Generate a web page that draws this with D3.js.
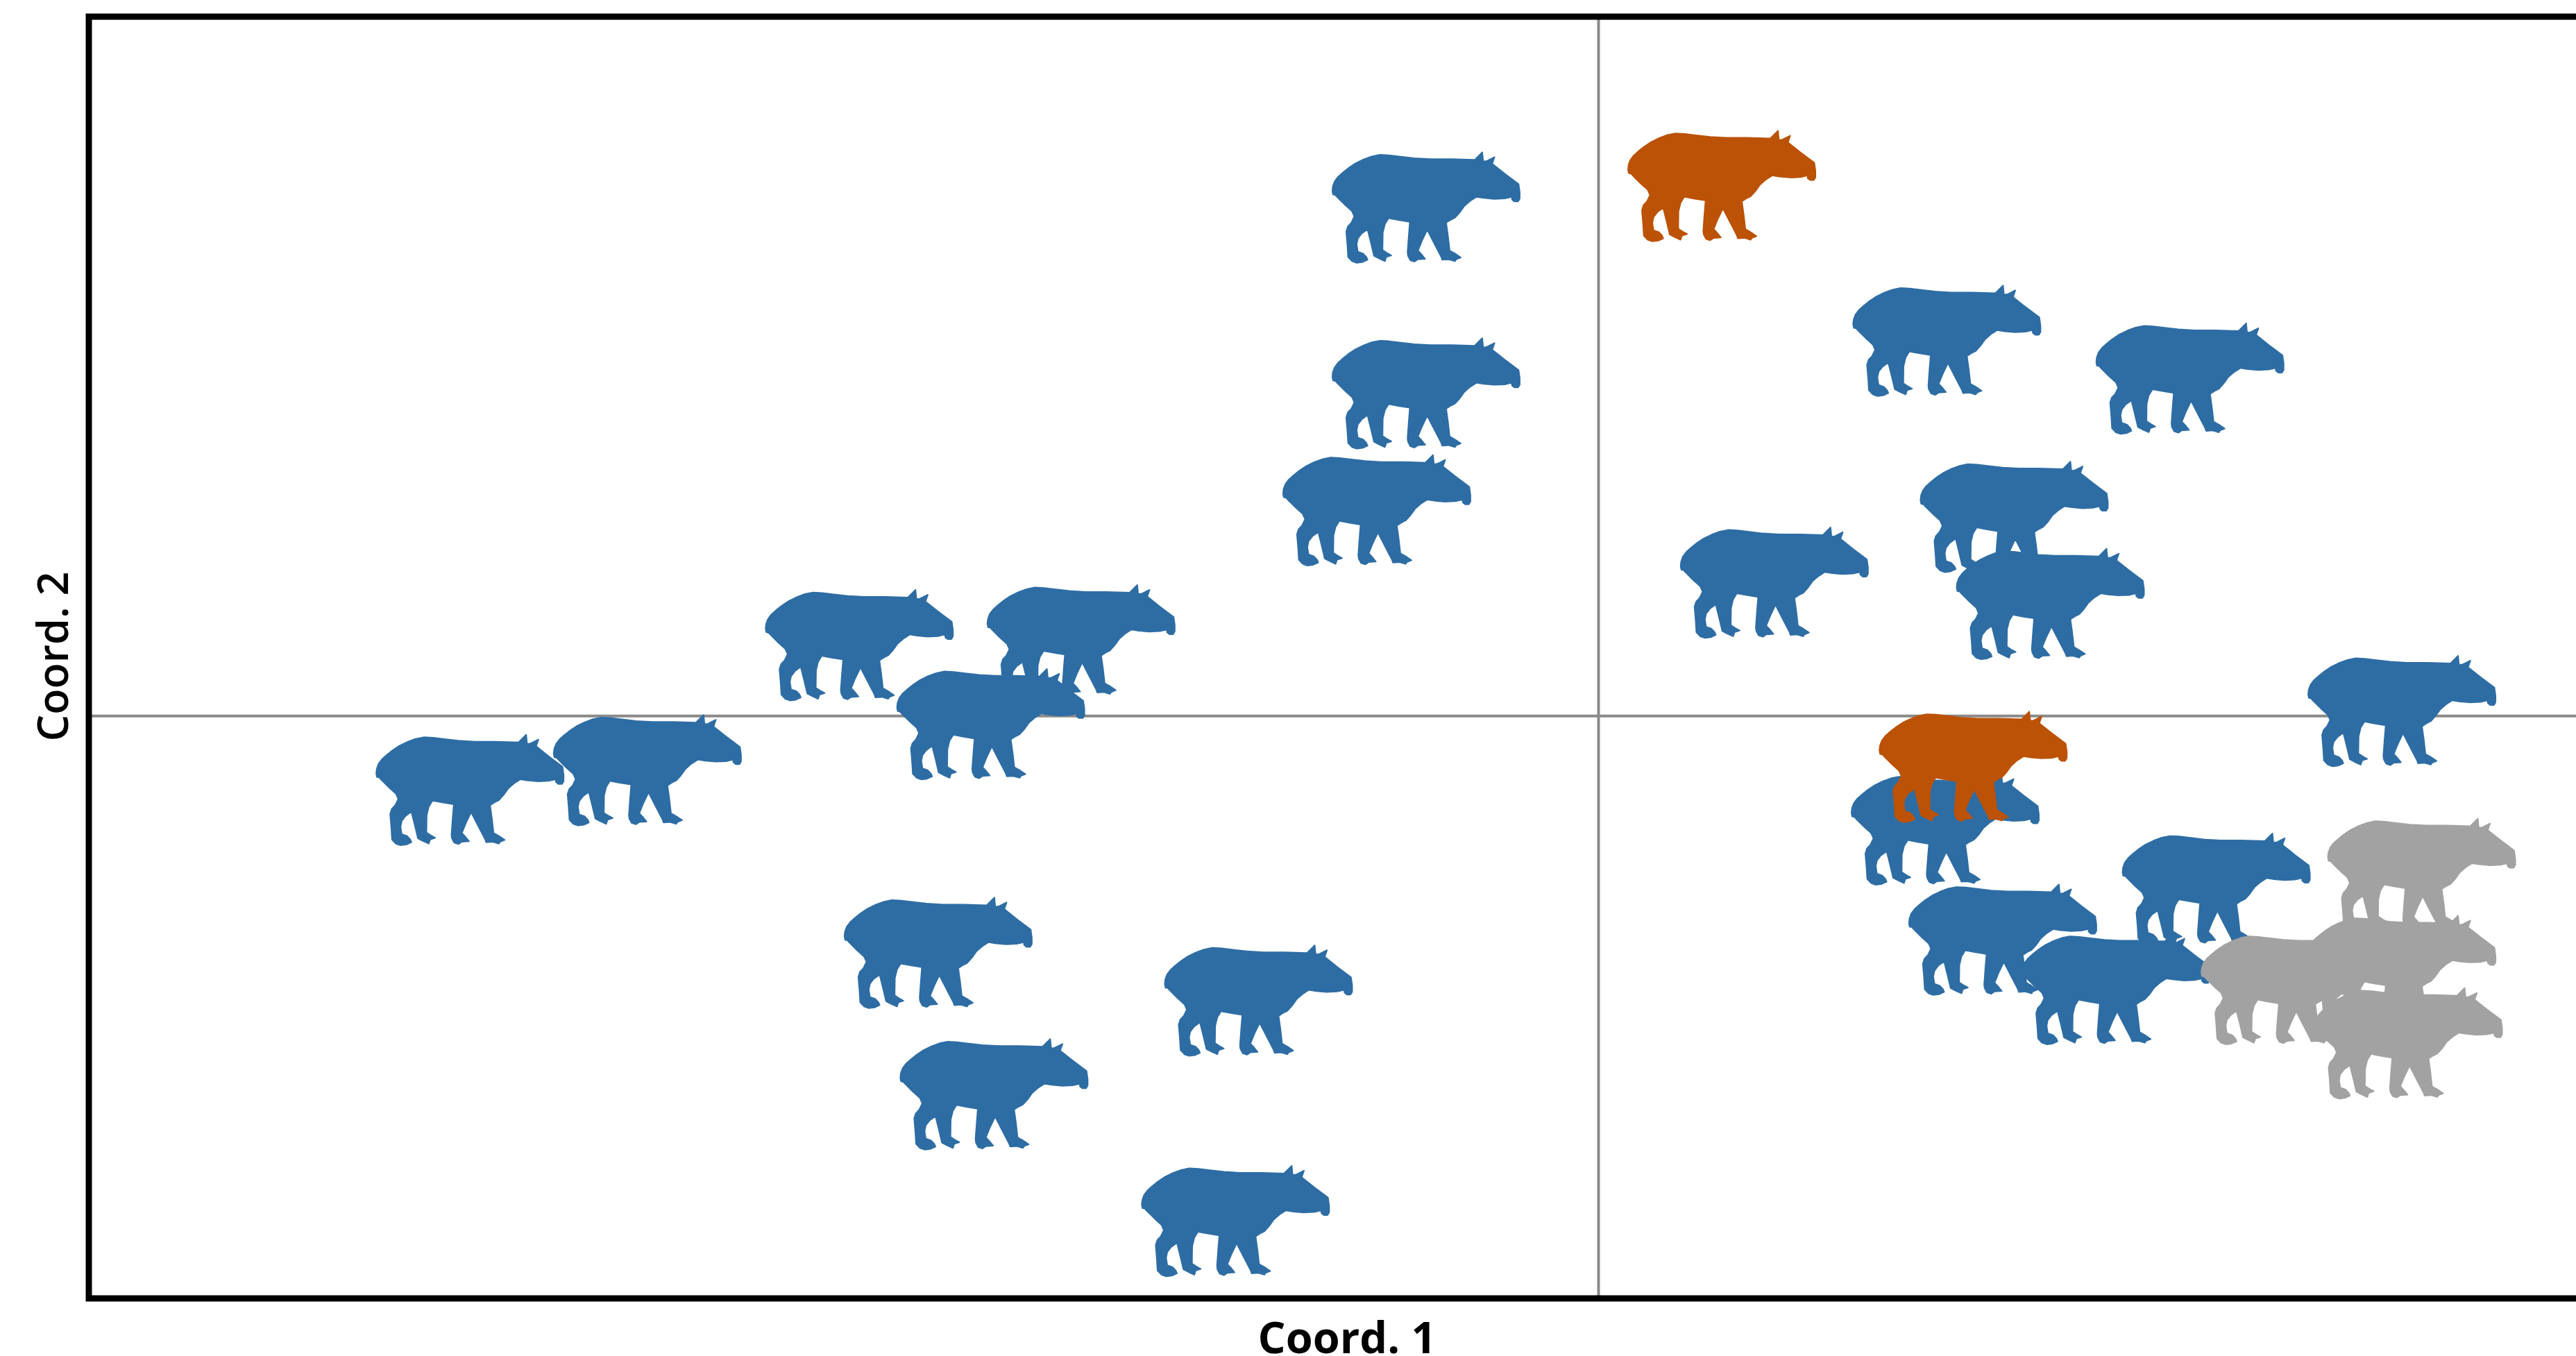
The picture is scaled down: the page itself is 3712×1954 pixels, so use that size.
<!DOCTYPE html>
<html>
<head>
<meta charset="utf-8">
<script src="https://cdnjs.cloudflare.com/ajax/libs/d3/7.8.5/d3.min.js"></script>
<style>
	html, body { margin: 0; padding: 0; background: #fff; }
	svg { display: block; }
	.axis-label { font-family: "Open Sans", sans-serif; fill: #000; }
</style>
</head>
<body>
<svg id="chart" width="3712" height="1954"></svg>
<script>
// Scores, one pair of arrays per group
let blueCoord1 = [-0.105, -0.105, -0.135, -0.450, -0.315, -0.370, -0.687, -0.579, -0.402, -0.207, -0.368, -0.221,
	0.212, 0.360, 0.253, 0.107, 0.275, 0.489, 0.211, 0.376, 0.246, 0.315];
let blueCoord2 = [0.309, 0.196, 0.125, 0.043, 0.046, -0.005, -0.045, -0.033, -0.144, -0.173, -0.230, -0.307,
	0.228, 0.205, 0.121, 0.081, 0.068, 0.003, -0.069, -0.105, -0.136, -0.166];
let greyCoord1 = [0.501, 0.493, 0.424, 0.489];
let greyCoord2 = [-0.096, -0.199, -0.166, -0.155];
let orangeCoord1 = [0.075, 0.228];
let orangeCoord2 = [0.322, -0.031];

let xDomain = [-0.919, 0.595];
let yDomain = [-0.354, 0.425];

// Outline of the tapir marker, traced around the body
let tapirOutline = [
	[45,225],[47,205],[55,183],[70,163],[90,145],[115,125],[145,105],[180,88],[215,75],[250,68],[290,70],[340,76],
	[400,83],[470,87],[560,87],[660,90],[672,78],[693,57],[697,97],[712,95],[746,78],[736,107],[790,150],[850,195],
	[855,230],[855,258],[848,270],[832,270],[822,262],[820,250],[790,257],[745,259],[700,255],[668,250],[640,268],
	[615,290],[595,318],[575,340],[555,350],[537,362],[545,420],[552,482],[575,495],[600,512],[580,520],[575,528],
	[548,520],[520,522],[515,508],[490,460],[455,392],[432,440],[415,482],[430,498],[446,518],[415,520],[400,530],
	[382,524],[372,505],[370,490],[375,420],[380,358],[330,350],[288,342],[272,368],[263,405],[262,480],[280,492],
	[300,503],[278,510],[272,528],[248,517],[225,505],[212,450],[197,390],[172,408],[155,430],[150,455],[155,487],
	[178,495],[192,510],[197,522],[175,532],[150,535],[130,528],[113,510],[110,460],[105,400],[112,378],[127,362],
	[140,335],[130,312],[100,285],[65,250],[58,242],[48,240]
];

let svg = d3.select("#chart");

let x = d3.scaleLinear().domain(xDomain).range([128, 3712]);
let y = d3.scaleLinear().domain(yDomain).range([1871, 24]);

// Zero lines
svg.append("line").attr("x1", x(0)).attr("x2", x(0)).attr("y1", 24).attr("y2", 1871)
	.attr("stroke", "#8a8a8a").attr("stroke-width", 4);
svg.append("line").attr("x1", 128).attr("x2", 3712).attr("y1", y(0)).attr("y2", y(0))
	.attr("stroke", "#8a8a8a").attr("stroke-width", 4);

// Frame, the right edge falls outside the picture
svg.append("path")
	.attr("d", "M3712,24H128V1871H3712")
	.attr("fill", "none").attr("stroke", "#000").attr("stroke-width", 9);

let outlineLine = d3.line()
	.x(d => (d[0] - 450) / 3)
	.y(d => (d[1] - 296) / 3);
let tapirPath = outlineLine(tapirOutline) + "Z";

function drawTapirs(coord1, coord2, color) {
	svg.append("g")
		.selectAll("path")
		.data(coord1)
		.enter()
		.append("path")
		.attr("d", tapirPath)
		.attr("fill", color)
		.attr("stroke", color)
		.attr("stroke-width", 2)
		.attr("stroke-linejoin", "round")
		.attr("transform", (d, i) => "translate(" + x(d) + "," + y(coord2[i]) + ")");
}

drawTapirs(blueCoord1, blueCoord2, "#2e6da4");
drawTapirs(orangeCoord1, orangeCoord2, "#bb5205");
drawTapirs(greyCoord1, greyCoord2, "#a2a2a2");

// Axis labels
svg.append("text")
	.attr("class", "axis-label")
	.attr("x", 1941).attr("y", 1950)
	.attr("text-anchor", "middle")
	.attr("font-size", 63)
	.attr("font-weight", 700)
	.text("Coord. 1");
svg.append("text")
	.attr("class", "axis-label")
	.attr("transform", "translate(98,946) rotate(-90)")
	.attr("text-anchor", "middle")
	.attr("font-size", 61)
	.attr("font-weight", 600)
	.text("Coord. 2");
</script>
</body>
</html>
